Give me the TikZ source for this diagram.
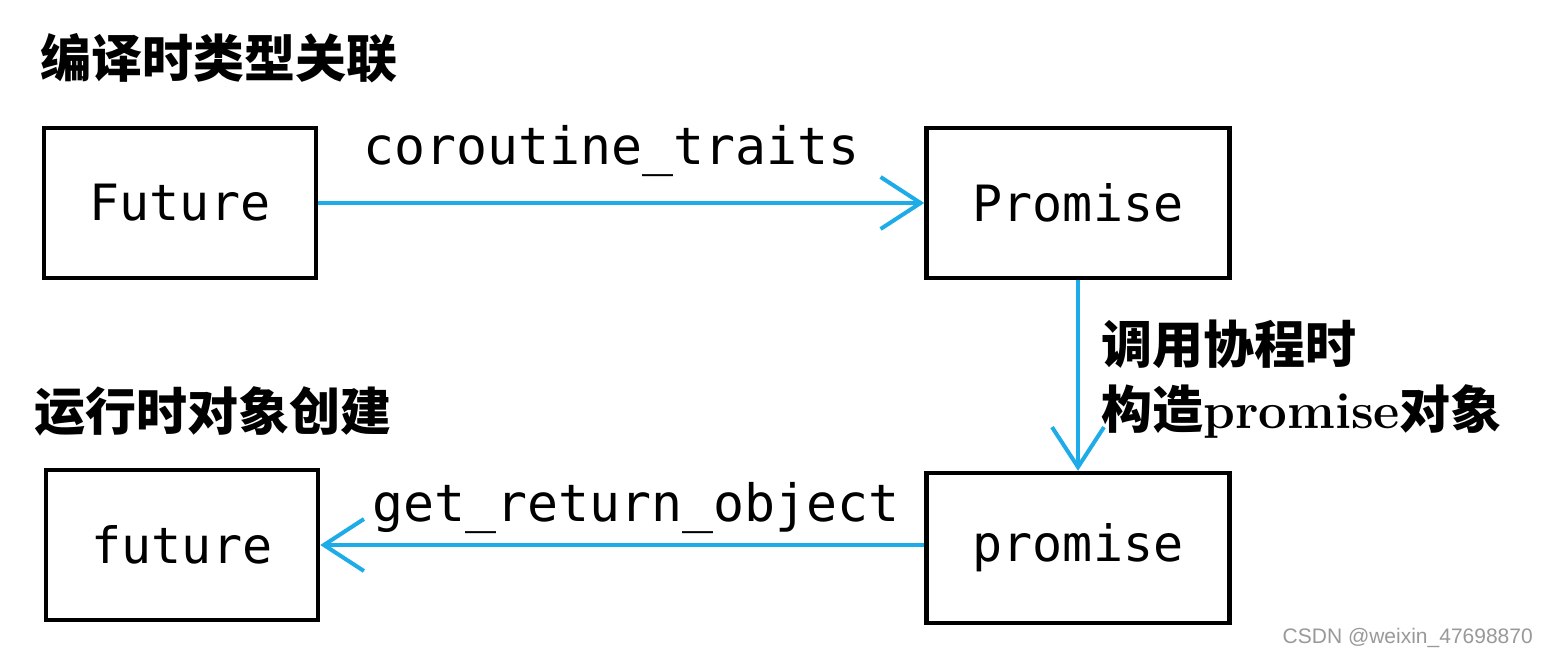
\documentclass[tikz,border=0pt]{standalone}
\usepackage{fontspec}
\setmonofont{DejaVu Sans Mono}
\newfontfamily\cjk{Noto Sans CJK SC}
\newfontfamily\wmfont{Liberation Sans}
\usetikzlibrary{arrows.meta}
\definecolor{arrowblue}{RGB}{30,172,232}
\begin{document}
\begin{tikzpicture}[x=1pt,y=-1pt,
  box/.style={draw=black, line width=4.5pt, minimum width=272pt, minimum height=150pt, inner sep=0pt, font=\ttfamily\fontsize{50}{60}\selectfont},
  bigbox/.style={box, minimum width=303pt},
  conn/.style={draw=arrowblue, line width=4pt, -{Straight Barb[length=40pt,width=52pt,line width=4pt]}},
  lbl/.style={font=\ttfamily\fontsize{51.5}{60}\selectfont, inner sep=0pt},
  cn/.style={font=\cjk\bfseries\fontsize{51}{60}\selectfont, inner sep=0pt, anchor=west},
]
\useasboundingbox (0,0) rectangle (1548,659);
\fill[white] (0,0) rectangle (1548,659);
\node[cn] (t1) at (40,58) {编译时类型关联};
\node[cn] (t2) at (34,411) {运行时对象创建};
\node[box] (F) at (180,203) {Future};
\node[bigbox] (P) at (1078,203) {Promise};
\node[box] (f) at (182,545) {future};
\node[bigbox] (p) at (1078,548) {promise};
\draw[conn] (F.east) -- (P.west) node[lbl, midway, above=24pt, xshift=-10pt] (l1) {coroutine\_traits};
\draw[conn] (P.south) -- (p.north);
\draw[conn] (p.west |- f.east) -- (f.east) node[lbl, midway, above=9pt, xshift=14pt] (l2) {get\_return\_object};
\node[font=\bfseries\fontsize{51}{65}\selectfont, align=left, anchor=north west, inner sep=0pt] (l3) at (1101,320) {{\cjk 调用协程时}\\{\cjk 构造}promise{\cjk 对象}};
\node[font=\wmfont\fontsize{21}{24}\selectfont, text=gray!80, anchor=east, inner sep=0pt] (wm) at (1533,638) {CSDN @weixin\_47698870};
\end{tikzpicture}
\end{document}
